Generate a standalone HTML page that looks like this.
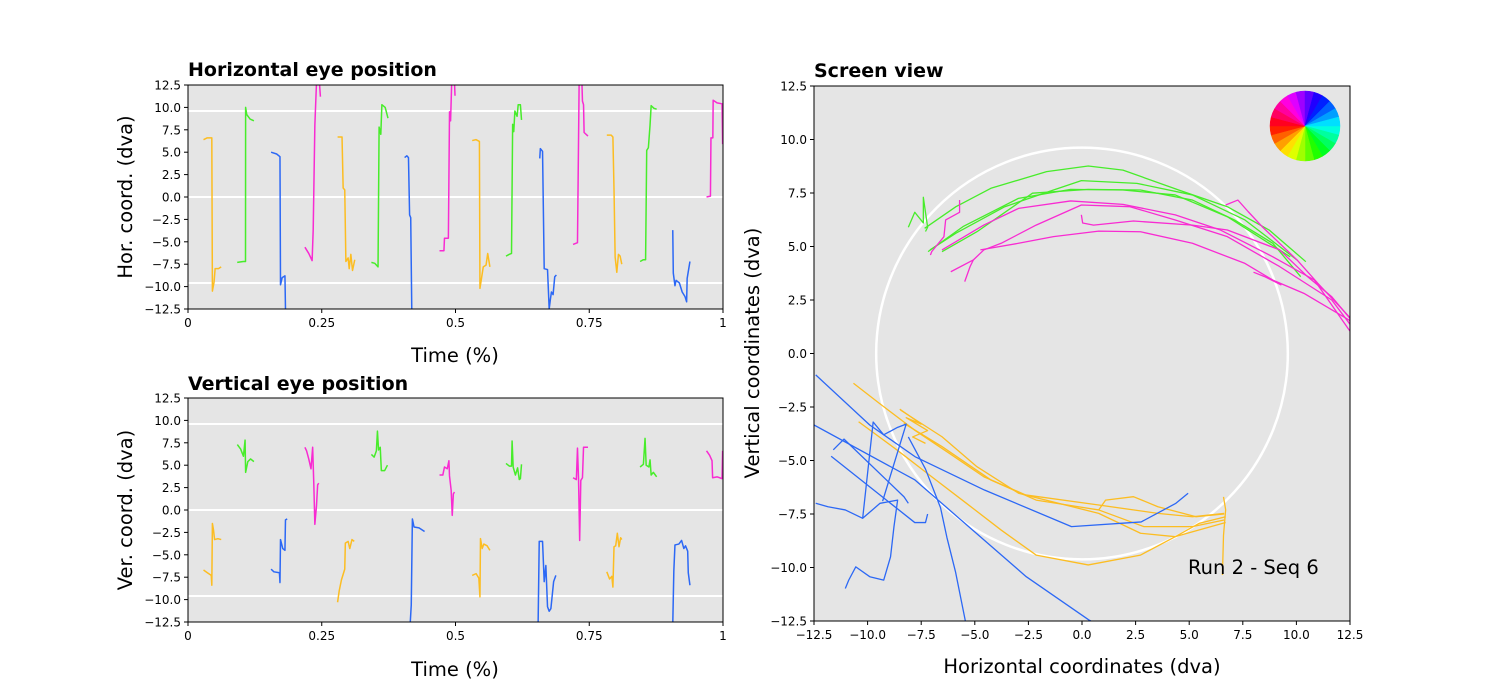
<!DOCTYPE html>
<html><head><meta charset="utf-8">
<style>
html,body{margin:0;padding:0;background:#fff;}
svg{display:block;font-family:"DejaVu Sans","Liberation Sans",sans-serif;}
</style></head>
<body>
<svg id="fig" width="1500" height="700" viewBox="0 0 1500 700">
<defs>
<clipPath id="clipH"><rect x="188" y="85" width="535" height="224"/></clipPath>
<clipPath id="clipV"><rect x="188" y="398" width="535" height="224"/></clipPath>
<clipPath id="clipS"><rect x="814" y="86" width="536" height="535"/></clipPath>
</defs>
<g id="layer"></g>
</svg>
<script>
// ---------- data: horizontal eye position (time fraction, dva) ----------
const hYellow = [
 [[.029,6.4],[.036,6.6],[.0445,6.6],[.0456,-10.5],[.0487,-9.5],[.0507,-8],[.057,-8],[.062,-7.8]],
 [[.2796,6.7],[.2879,6.7],[.29,1],[.293,0.8],[.2951,-7.2],[.2993,-6.8],[.3013,-8],[.3044,-6.4],[.3075,-8.2],[.3117,-7]],
 [[.5312,6.3],[.5385,6.4],[.5447,6.2],[.5457,-10.2],[.5488,-9],[.5519,-7.8],[.5571,-7.6],[.5602,-6.3],[.5643,-7.8]],
 [[.7828,6.9],[.7911,6.9],[.7942,6.7],[.7963,0.8],[.7984,-6.7],[.8015,-8.4],[.8046,-6.4],[.8077,-6.6],[.8108,-7.5]]
];
const hGreen = [
 [[.092,-7.3],[.1035,-7.2],[.1075,-7.2],[.1077,10],[.1098,9.2],[.116,8.7],[.1232,8.5]],
 [[.3428,-7.3],[.349,-7.4],[.3552,-7.8],[.3572,7.8],[.3604,7],[.3624,10.3],[.3686,10],[.3738,8.8]],
 [[.5944,-6.6],[.6006,-6.4],[.6047,-6.3],[.6068,8.1],[.6089,7.3],[.611,9.6],[.6151,9],[.6172,10.3],[.6213,10.3],[.6234,8.6]],
 [[.845,-7.2],[.8512,-7],[.8553,-7],[.8574,5.2],[.8605,5.5],[.8636,8],[.8657,10.2],[.8709,9.9],[.876,9.8]]
];
const hBlue = [
 [[.1553,5],[.1657,4.8],[.1719,4.5],[.1729,-9.8],[.176,-9],[.1812,-8.8],[.1822,-12.5],[.1864,-12.6]],
 [[.4049,4.4],[.409,4.6],[.4121,4.4],[.4142,-2],[.4163,-2.3],[.4183,-12.8]],
 [[.6575,4.3],[.6586,5.4],[.6627,5.1],[.6658,-8],[.672,-8.1],[.6751,-12.5],[.6772,-11.5],[.6793,-10.6],[.6824,-10.9],[.6855,-8.9],[.6886,-8.7]],
 [[.9061,-3.7],[.9071,-8.5],[.9102,-9.9],[.9123,-9.3],[.9185,-9.6],[.9237,-10.6],[.9289,-11.1],[.932,-11.7],[.933,-9.1],[.9382,-7.2]]
];
const hMagenta = [
 [[.2185,-5.6],[.2257,-6.3],[.232,-7.1],[.234,-3.7],[.2371,8],[.2402,12.8],[.2454,13],[.2475,11.2]],
 [[.4701,-6],[.4784,-6],[.4794,-4.6],[.4867,-4.6],[.4888,9.5],[.4908,8.5],[.4929,12.8],[.4981,12.8],[.4991,11.3]],
 [[.7197,-5.3],[.728,-5.1],[.7311,12.8],[.7363,12.8],[.7373,10.7],[.7393,10.3],[.7404,7.2],[.7476,6.8]],
 [[.9692,0],[.9765,0.1],[.9775,6.6],[.981,6.6],[.9816,10.8],[.9889,10.5],[.9982,10.4],[.9993,5.9]]
];
// ---------- data: vertical eye position ----------
const vYellow = [
 [[.029,-6.7],[.0362,-7],[.0435,-7.3],[.0445,-8.4],[.0456,-1.5],[.0476,-2.2],[.0497,-3.3],[.0559,-3.2],[.0621,-3.3]],
 [[.2796,-10.3],[.2827,-9],[.2868,-7.8],[.293,-6.6],[.2941,-3.7],[.2993,-3.5],[.3024,-4.3],[.3065,-3.3],[.3107,-3.5]],
 [[.5312,-7.3],[.5385,-7.1],[.5436,-7.6],[.5457,-9.7],[.5467,-3.2],[.5499,-4.3],[.553,-3.8],[.5592,-4],[.5643,-4.5]],
 [[.7828,-6.9],[.788,-7.7],[.7922,-7.4],[.7942,-8.6],[.7963,-4.1],[.7994,-4],[.8025,-2.6],[.8056,-4.1],[.8087,-3.1],[.8108,-3.3]]
];
const vGreen = [
 [[.0922,7.3],[.0984,6.8],[.1036,6],[.1067,7.8],[.1077,4.2],[.1118,5.4],[.117,5.7],[.1232,5.4]],
 [[.3428,6.2],[.3479,5.9],[.3521,6.6],[.3541,8.8],[.3562,6.7],[.3593,7],[.3614,4.4],[.3676,4.4],[.3728,5]],
 [[.5944,5.2],[.6006,4.9],[.6047,4.9],[.6058,7.7],[.6078,4.8],[.612,3.9],[.6161,4.7],[.6192,3.4],[.6213,3.5],[.6234,5.1]],
 [[.845,4.8],[.8512,5.1],[.8543,8],[.8564,5],[.8615,4.8],[.8636,5.6],[.8657,3.9],[.8698,4.2],[.876,3.7]]
];
const vBlue = [
 [[.1553,-6.6],[.1605,-6.9],[.1709,-7],[.1719,-8.1],[.1729,-3.3],[.1771,-4.3],[.1812,-4.5],[.1822,-1.1],[.1854,-1]],
 [[.4152,-12.8],[.4173,-10.6],[.4194,-1],[.4225,-1.9],[.4318,-2],[.4422,-2.4]],
 [[.6544,-12.8],[.6565,-3.5],[.6627,-3.5],[.6658,-8],[.6689,-6.2],[.672,-10.8],[.6751,-11.3],[.6783,-11],[.6834,-8],[.6876,-7.3]],
 [[.9061,-12.8],[.9081,-6.8],[.9102,-3.9],[.9175,-3.8],[.9226,-3.4],[.9268,-4.3],[.9299,-4],[.934,-4.6],[.9351,-7],[.9382,-8.4]]
];
const vMagenta = [
 [[.2185,7],[.2216,6.6],[.2257,5.7],[.2299,4.6],[.233,7],[.2351,3],[.2371,-1.6],[.2402,0.5],[.2423,2.8],[.2444,3]],
 [[.4701,3.9],[.4763,3.9],[.4794,4.8],[.4846,4.6],[.4877,5.5],[.4888,3.8],[.4919,2.2],[.4939,-0.6],[.496,1.8],[.4981,2]],
 [[.7197,3.6],[.7259,3.4],[.728,6.9],[.73,3.4],[.7321,-3.4],[.7342,3.3],[.7373,3.6],[.7393,7],[.7476,7]],
 [[.9692,6.6],[.975,6.1],[.9795,5.5],[.9806,3.6],[.9889,3.7],[.9982,3.5],[.9993,6.6]]
];
// ---------- data: screen view (x dva, y dva) ----------
const sGreen = [
 [[-7.34,5.85],[-5.88,6.86],[-4.25,7.72],[-1.65,8.5],[0.29,8.76],[1.91,8.57],[4.51,7.64],[6.78,6.86],[8.73,5.77],[10.44,4.29]],
 [[-7.09,4.84],[-5.88,5.62],[-3.6,6.86],[-1.33,7.64],[-0.03,8.08],[2.56,7.95],[5.15,7.41],[7.6,6.24],[10.03,4.37]],
 [[-7.18,4.76],[-5.55,5.93],[-2.96,7.25],[-0.53,7.67],[1.91,7.64],[4.35,7.41],[6.78,6.39],[9.71,4.52]],
 [[-6.53,4.76],[-4.9,5.69],[-2.31,7.49],[0.29,7.67],[2.73,7.64],[5.15,7.17],[7.11,6.24],[8.9,5.15],[10.2,3.59]],
 [[-8.1,5.9],[-7.8,6.6],[-7.4,6.1],[-7.4,7.3],[-7.2,5.9],[-7.3,5.7]]
];
const sMagenta = [
 [[-5.71,7.17],[-5.71,6.6],[-6.36,6.24],[-6.44,5.46],[-7.01,4.76],[-7.07,4.6]],
 [[-6.53,4.84],[-4.58,6.0],[-2.96,6.78],[-0.53,7.13],[1.91,6.97],[4.35,6.48],[6.46,5.77],[8.9,4.52],[10.84,3.43],[12.46,1.1],[12.7,0.8]],
 [[-6.12,3.82],[-5.07,4.37],[-4.58,4.84],[-3.77,5.15],[-2.14,6.0],[-0.03,6.94],[2.24,6.86],[4.35,6.24],[6.78,5.46],[9.22,4.06],[11.65,2.5],[12.7,1.1]],
 [[-0.03,6.48],[0.03,6.1],[0.54,6.0],[2.4,6.19],[5.15,6.0],[6.78,5.77],[9.22,4.84],[10.52,3.59],[11.65,2.65],[12.7,1.4]],
 [[-4.74,4.84],[-2.96,5.15],[-1.33,5.46],[0.78,5.72],[2.73,5.69],[5.15,5.15],[7.6,4.21],[8.9,3.43],[10.35,2.81],[12.46,1.56],[12.7,1.3]],
 [[6.7,6.94],[7.27,7.17],[7.75,6.63],[8.4,5.93],[10.03,4.37],[11.0,3.28],[12.46,1.72],[12.7,1.5]],
 [[-5.47,3.36],[-5.22,4.06],[-5.07,4.37]],
 [[8.0,3.8],[8.5,3.6],[9.3,3.2]]
];
const sYellow = [
 [[-10.66,-1.39],[-9.45,-2.33],[-7.82,-3.57],[-6.2,-4.66],[-4.58,-5.76],[-2.63,-6.61],[0.78,-7.08],[3.54,-7.47],[5.15,-7.63],[6.63,-7.47]],
 [[-10.42,-3.19],[-8.64,-4.5],[-7.01,-5.76],[-5.39,-7.0],[-3.77,-8.25],[-2.14,-9.42],[0.29,-9.88],[2.73,-9.42],[4.35,-8.56],[5.48,-7.93],[6.7,-7.63]],
 [[-8.47,-2.64],[-6.53,-3.89],[-4.9,-5.29],[-2.96,-6.53],[0.78,-7.47],[2.73,-8.4],[4.35,-8.56],[6.7,-7.9]],
 [[-8.31,-3.26],[-6.53,-4.35],[-4.25,-5.91],[-2.14,-6.85],[0.78,-7.31],[2.89,-8.09],[5.15,-8.09],[6.63,-7.78]],
 [[0.78,-7.31],[1.1,-6.85],[2.4,-6.69],[3.54,-7.16],[5.32,-7.63],[6.63,-7.5]],
 [[6.6,-6.7],[6.7,-7.3],[6.6,-8.5],[6.55,-10.35]],
 [[-8.5,-2.6],[-7.5,-3.3],[-8.2,-3.0],[-7.2,-3.6],[-7.9,-3.9],[-7.3,-4.2]]
];
const sBlue = [
 [[-12.42,-1.0],[-9.9,-3.34],[-7.79,-4.82],[-4.55,-6.38],[-0.49,-8.09],[2.76,-7.87],[4.38,-7.0],[4.95,-6.53]],
 [[-12.5,-3.34],[-7.79,-5.91],[-2.6,-10.43],[0.32,-12.45],[0.8,-12.7]],
 [[-11.6,-4.5],[-11.1,-4.0],[-8.3,-6.7],[-8.1,-7.0]],
 [[-11.7,-4.8],[-7.8,-7.9],[-7.3,-7.9],[-7.2,-7.5]],
 [[-12.42,-7.0],[-11.85,-7.16],[-11.04,-7.31],[-10.23,-7.7],[-9.42,-7.0],[-8.6,-6.85],[-8.77,-8.09],[-8.93,-9.5],[-9.25,-10.59],[-9.9,-10.43],[-10.55,-9.97],[-10.88,-10.59],[-11.04,-10.98]],
 [[-10.23,-7.7],[-9.98,-5.4],[-9.74,-3.2],[-9.25,-3.8],[-8.6,-3.45],[-8.2,-3.3],[-9.3,-6.9]],
 [[-8.1,-3.9],[-7.3,-5.4],[-6.6,-7.2],[-6.3,-8.6],[-5.9,-10.2],[-5.4,-12.7]]
];
const timeTicks = [0, 0.25, 0.5, 0.75, 1];
const timeTickLabels = ["0", "0.25", "0.5", "0.75", "1"];
const dvaTicks = [-12.5, -10, -7.5, -5, -2.5, 0, 2.5, 5, 7.5, 10, 12.5];
const gridLevels = [-9.6, 0, 9.6];
const circleRadius = 9.6;

const NS = "http://www.w3.org/2000/svg";
const layer = document.getElementById("layer");
const COL = {yellow:"#fcbd22", green:"#47ec2a", blue:"#2c68f5", magenta:"#f82bd2"};
function el(tag, attrs, parent){ const e=document.createElementNS(NS,tag); for(const k in attrs) e.setAttribute(k,attrs[k]); (parent||layer).appendChild(e); return e; }
function fmt(v){ const s=v.toFixed(1); return v<0 ? "\u2212"+s.slice(1) : s; }

function makeAxes(box, xDom, yDom){
  return {
    x: v => box.x + (v - xDom[0])/(xDom[1]-xDom[0])*box.w,
    y: v => box.y + (yDom[1] - v)/(yDom[1]-yDom[0])*box.h
  };
}

function drawPanel(name, box, xDom, xTicks, xLabels, clipId, series, lw, isScreen){
  const g = el("g", {});
  
  
  const ax = makeAxes(box, xDom, [-12.5,12.5]);
  const bg = el("rect", {x:box.x, y:box.y, width:box.w, height:box.h, fill:"#e5e5e5"}, g);
  
  
  const plot = el("g", {"clip-path":"url(#"+clipId+")"}, g);
  if(!isScreen){
    gridLevels.forEach(lv=>{
      const l = el("line", {x1:box.x, x2:box.x+box.w, y1:ax.y(lv), y2:ax.y(lv), stroke:"#fff", "stroke-width":2}, plot);
      
      
    });
  } else {
    const c = el("circle", {cx:ax.x(0), cy:ax.y(0), r:ax.x(circleRadius)-ax.x(0), fill:"none", stroke:"#fff", "stroke-width":2.5}, plot);
    
    
  }
  series.forEach(([cname, segs])=>{
    segs.forEach(seg=>{
      const d = seg.map((p,i)=>(i?"L":"M")+ax.x(p[0]).toFixed(2)+","+ax.y(p[1]).toFixed(2)).join("");
      const path = el("path", {d:d, fill:"none", stroke:COL[cname], "stroke-width":lw, "stroke-linejoin":"round"}, plot);
      
      
    });
  });
  const frame = el("rect", {x:box.x, y:box.y, width:box.w, height:box.h, fill:"none", stroke:"#000", "stroke-width":1}, g);
  
  
  xTicks.forEach((t,i)=>{
    const xx = ax.x(t);
    el("line", {x1:xx, x2:xx, y1:box.y+box.h, y2:box.y+box.h+4, stroke:"#000"}, g);
    const tx = el("text", {x:xx, y:box.y+box.h+18, "font-size":12, "text-anchor":"middle", fill:"#000"}, g);
    tx.textContent = xLabels[i];
    
    
  });
  dvaTicks.forEach(t=>{
    const yy = ax.y(t);
    el("line", {x1:box.x-4, x2:box.x, y1:yy, y2:yy, stroke:"#000"}, g);
    const ty = el("text", {x:box.x-7, y:yy+4.5, "font-size":12, "text-anchor":"end", fill:"#000"}, g);
    ty.textContent = fmt(t);
    
    
  });
  return ax;
}

drawPanel("horizontal-position-panel", {x:188,y:85,w:535,h:224}, [0,1], timeTicks, timeTickLabels, "clipH",
  [["yellow",hYellow],["green",hGreen],["blue",hBlue],["magenta",hMagenta]], 1.5, false);
drawPanel("vertical-position-panel", {x:188,y:398,w:535,h:224}, [0,1], timeTicks, timeTickLabels, "clipV",
  [["yellow",vYellow],["green",vGreen],["blue",vBlue],["magenta",vMagenta]], 1.5, false);
drawPanel("screen-view-panel", {x:814,y:86,w:536,h:535}, [-12.5,12.5], dvaTicks, dvaTicks.map(fmt), "clipS",
  [["yellow",sYellow],["blue",sBlue],["green",sGreen],["magenta",sMagenta]], 1.3, true);

// colour wheel
const wheel = el("g", {});


const cx=1305, cy=126, R=35, N=24;
for(let i=0;i<N;i++){
  const a0=(i/N)*2*Math.PI, a1=((i+1)/N)*2*Math.PI, am=((i+0.5)/N)*360;
  const hue=((180-am)%360+360)%360;
  const d=`M${cx},${cy}L${cx+R*Math.cos(a0)},${cy+R*Math.sin(a0)}A${R},${R} 0 0 1 ${cx+R*Math.cos(a1)},${cy+R*Math.sin(a1)}Z`;
  const w = el("path", {d:d, fill:`hsl(${hue},100%,50%)`, stroke:`hsl(${hue},100%,50%)`, "stroke-width":0.5}, wheel);
  
  
}

function txt(name, s, attrs){
  const t = el("text", Object.assign({fill:"#000"}, attrs));
  t.textContent = s;
  
  
  return t;
}
txt("horizontal-title", "Horizontal eye position", {x:188, y:76, "font-size":19, "font-weight":"bold"});
txt("vertical-title", "Vertical eye position", {x:188, y:390, "font-size":19, "font-weight":"bold"});
txt("screen-view-title", "Screen view", {x:814, y:77, "font-size":19, "font-weight":"bold"});
txt("top-x-axis-title", "Time (%)", {x:455, y:362, "font-size":19.5, "text-anchor":"middle"});
txt("bottom-x-axis-title", "Time (%)", {x:455, y:676, "font-size":19.5, "text-anchor":"middle"});
txt("top-y-axis-title", "Hor. coord. (dva)", {x:0, y:0, "font-size":19.5, "text-anchor":"middle", transform:"translate(132,197) rotate(-90)"});
txt("bottom-y-axis-title", "Ver. coord. (dva)", {x:0, y:0, "font-size":19.5, "text-anchor":"middle", transform:"translate(132,510) rotate(-90)"});
txt("screen-x-axis-title", "Horizontal coordinates (dva)", {x:1082, y:673, "font-size":19.5, "text-anchor":"middle"});
txt("screen-y-axis-title", "Vertical coordinates (dva)", {x:0, y:0, "font-size":19.5, "text-anchor":"middle", transform:"translate(759,353) rotate(-90)"});
txt("run-label", "Run 2 - Seq 6", {x:1188, y:574, "font-size":19.5});
</script>
</body></html>
